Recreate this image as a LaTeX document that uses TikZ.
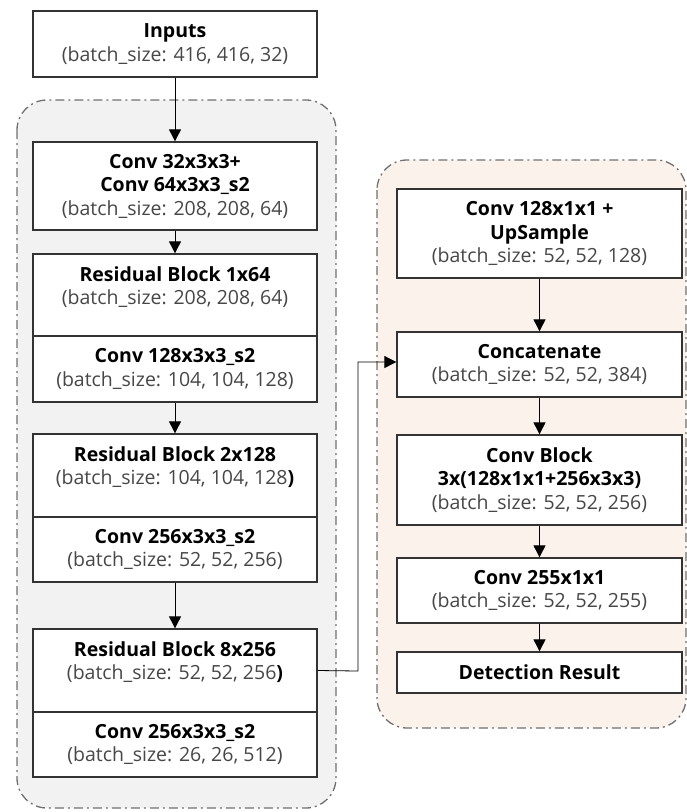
\documentclass[tikz,border=0pt]{standalone}
\usepackage{fontspec}
\setmainfont{Open Sans}
\usetikzlibrary{arrows.meta}
\definecolor{leftbg}{HTML}{F2F2F2}
\definecolor{rightbg}{HTML}{FCF2EC}
\definecolor{framec}{HTML}{707070}
\definecolor{boxline}{HTML}{333333}
\definecolor{subtxt}{HTML}{474747}
\newcommand{\ttl}[1]{\textbf{#1}}
\newcommand{\sbt}[1]{\textcolor{subtxt}{#1}}
\tikzset{
 panel/.style={draw=framec, line width=1.3pt, dash pattern=on 9pt off 4pt on 2pt off 4pt, rounded corners=30pt},
 blk/.style={draw=boxline, line width=1.3pt, fill=white, rectangle, inner sep=0pt},
 lw/.style={blk, minimum width=284pt},
 rw/.style={blk, minimum width=285pt},
 lbl/.style={align=center, font=\fontsize{19.5}{23.5}\selectfont, inner sep=0pt},
 flow/.style={-{Triangle[length=12pt,width=12pt]}, line width=0.9pt, black},
}
\begin{document}
\begin{tikzpicture}[x=1pt,y=-1pt]
\useasboundingbox (0,0) rectangle (687,812);
% panels
\draw[panel, fill=leftbg] (17,100) rectangle (336,808);
\draw[panel, fill=rightbg] (377,160) rectangle (686,728);
% left column
\node[lw, minimum height=66pt] (inp) at (175,44) {};
\node[lbl] (inpt) at (inp.center) {\ttl{Inputs}\\\sbt{(batch\_size: 416, 416, 32)}};
\node[lw, minimum height=88pt] (c1) at (175,186) {};
\node[lbl] (c1t) at (c1.center) {\ttl{Conv 32x3x3+}\\\ttl{Conv 64x3x3\_s2}\\\sbt{(batch\_size: 208, 208, 64)}};
\node[lw, minimum height=82pt] (r1a) at (175,295) {};
\node[lbl] (r1at) at (175,287) {\ttl{Residual Block 1x64}\\\sbt{(batch\_size: 208, 208, 64)}};
\node[lw, minimum height=66pt] (r1b) at (175,369) {};
\node[lbl] (r1bt) at (r1b.center) {\ttl{Conv 128x3x3\_s2}\\\sbt{(batch\_size: 104, 104, 128)}};
\node[lw, minimum height=83pt] (r2a) at (175,475.5) {};
\node[lbl] (r2at) at (175,467) {\ttl{Residual Block 2x128}\\\sbt{(batch\_size: 104, 104, 128}\textbf{)}};
\node[lw, minimum height=65pt] (r2b) at (175,549.5) {};
\node[lbl] (r2bt) at (r2b.center) {\ttl{Conv 256x3x3\_s2}\\\sbt{(batch\_size: 52, 52, 256)}};
\node[lw, minimum height=83pt] (r3a) at (175,670.5) {};
\node[lbl] (r3at) at (175,662) {\ttl{Residual Block 8x256}\\\sbt{(batch\_size: 52, 52, 256}\textbf{)}};
\node[lw, minimum height=65pt] (r3b) at (175,744.5) {};
\node[lbl] (r3bt) at (r3b.center) {\ttl{Conv 256x3x3\_s2}\\\sbt{(batch\_size: 26, 26, 512)}};
% right column
\node[rw, minimum height=89pt] (u1) at (539.5,233.5) {};
\node[lbl] (u1t) at (u1.center) {\ttl{Conv 128x1x1 +}\\\ttl{UpSample}\\\sbt{(batch\_size: 52, 52, 128)}};
\node[rw, minimum height=65pt] (cat) at (539.5,364.5) {};
\node[lbl] (catt) at (cat.center) {\ttl{Concatenate}\\\sbt{(batch\_size: 52, 52, 384)}};
\node[rw, minimum height=90pt] (cb) at (539.5,480) {};
\node[lbl] (cbt) at (cb.center) {\ttl{Conv Block}\\\ttl{3x(128x1x1+256x3x3)}\\\sbt{(batch\_size: 52, 52, 256)}};
\node[rw, minimum height=65pt] (c255) at (539.5,590.5) {};
\node[lbl] (c255t) at (c255.center) {\ttl{Conv 255x1x1}\\\sbt{(batch\_size: 52, 52, 255)}};
\node[rw, minimum height=41pt] (det) at (539.5,672.5) {};
\node[lbl] (dett) at (det.center) {\ttl{Detection Result}};
% connectors
\draw[flow] (inp.south) -- (c1.north);
\draw[flow] (c1.south) -- (r1a.north);
\draw[flow] (r1b.south) -- (r2a.north);
\draw[flow] (r2b.south) -- (r3a.north);
\coordinate (bend) at (358,671);
\draw[flow, line width=0.8pt] (r3a.east) -- (bend) |- ([yshift=2.5pt]cat.west);
\draw[flow] (u1.south) -- (cat.north);
\draw[flow] (cat.south) -- (cb.north);
\draw[flow] (cb.south) -- (c255.north);
\draw[flow] (c255.south) -- (det.north);
\end{tikzpicture}
\end{document}
